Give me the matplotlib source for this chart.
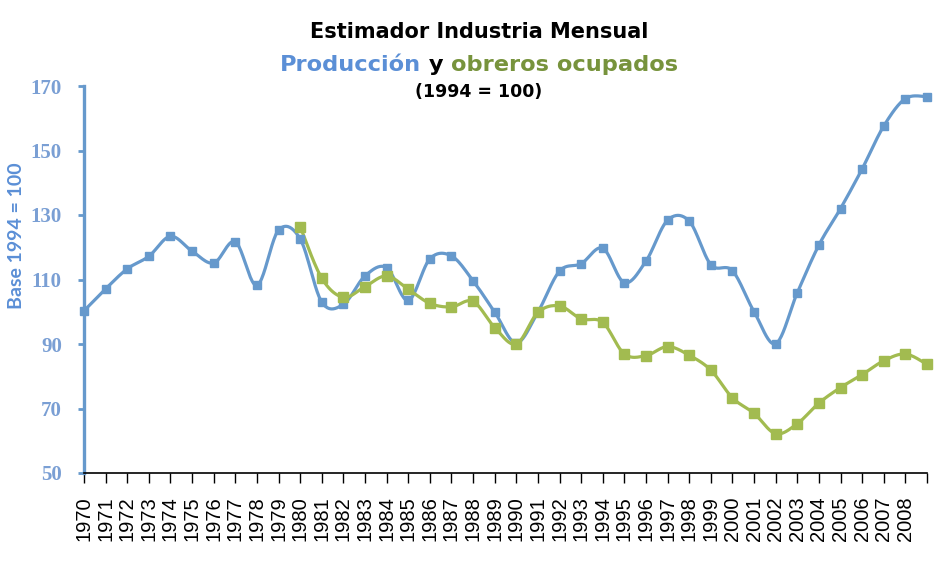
import numpy as np
import matplotlib
matplotlib.use("Agg")
import matplotlib.pyplot as plt

# Estimador Industria Mensual: produccion y obreros ocupados (1994 = 100)

years = [str(y) for y in range(1970, 2009)] + [""]

produccion = [100.3, 107.1, 113.3, 117.2, 123.4, 118.8, 115.1, 121.7, 108.2, 125.3,
              122.6, 103.0, 102.3, 111.1, 113.7, 103.5, 116.4, 117.3, 109.6, 99.9,
              90.3, 99.9, 112.6, 114.9, 119.7, 109.0, 115.7, 128.4, 128.1, 114.6,
              112.7, 100.0, 90.1, 105.9, 120.7, 132.0, 144.3, 157.6, 166.1, 166.7]

obreros = [np.nan] * 10 + [
    126.4, 110.4, 104.5, 107.8, 111.1, 107.0, 102.6, 101.5, 103.2, 95.1,
    90.0, 99.8, 101.8, 97.8, 96.7, 86.9, 86.4, 89.2, 86.5, 81.9,
    73.3, 68.5, 62.2, 65.3, 71.7, 76.5, 80.5, 84.8, 86.9, 83.7]

BLUE = "#6699cc"
GREEN = "#a2bb50"
TITLE_BLUE = "#5b8fd6"
TITLE_GREEN = "#77933c"
TITLE_FONT = "DejaVu Sans"


def smooth(x, y, n=24):
    """Excel-like smoothed line (cubic bezier, catmull-rom control points)."""
    x = np.asarray(x, float)
    y = np.asarray(y, float)
    xs, ys = [], []
    for i in range(len(x) - 1):
        i0 = max(i - 1, 0)
        i3 = min(i + 2, len(x) - 1)
        p0 = np.array([x[i0], y[i0]])
        p1 = np.array([x[i], y[i]])
        p2 = np.array([x[i + 1], y[i + 1]])
        p3 = np.array([x[i3], y[i3]])
        c1 = p1 + (p2 - p0) / 6
        c2 = p2 - (p3 - p1) / 6
        t = np.linspace(0, 1, n)[:, None]
        pts = ((1 - t) ** 3) * p1 + 3 * ((1 - t) ** 2) * t * c1 + 3 * (1 - t) * t ** 2 * c2 + t ** 3 * p2
        xs.extend(pts[:, 0])
        ys.extend(pts[:, 1])
    return np.array(xs), np.array(ys)


fig = plt.figure(figsize=(9.48, 5.68), dpi=100)
ax = fig.add_axes([84 / 948, 1 - 473 / 568, (927 - 84) / 948, (473 - 86) / 568])

x = np.arange(len(produccion))
sx, sy = smooth(x, produccion)
ax.plot(sx, sy, color=BLUE, lw=2.3, clip_on=False, zorder=3)
ax.plot(x, produccion, ls="none", marker="s", ms=6.3, color=BLUE, clip_on=False, zorder=4)

ob = np.array(obreros)
mask = ~np.isnan(ob)
gx, gy = smooth(x[mask], ob[mask])
ax.plot(gx, gy, color=GREEN, lw=2.3, clip_on=False, zorder=3)
ax.plot(x[mask], ob[mask], ls="none", marker="s", ms=7.3, color=GREEN, clip_on=False, zorder=4)

ax.set_xlim(0, len(produccion) - 1)
ax.set_ylim(50, 170)
ax.set_yticks(range(50, 171, 20))
ax.set_xticks(x)
ax.set_xticklabels(years, rotation=90, fontsize=14.5, family="Liberation Sans")

for lbl in ax.get_yticklabels():
    lbl.set_family("Liberation Serif")
    lbl.set_fontweight("bold")
    lbl.set_fontsize(15)
    lbl.set_color("#7a9fd4")

ax.spines["top"].set_visible(False)
ax.spines["right"].set_visible(False)
ax.spines["left"].set_color(BLUE)
ax.spines["left"].set_linewidth(2.4)
ax.spines["bottom"].set_color("black")
ax.spines["bottom"].set_linewidth(1.2)
ax.tick_params(axis="y", colors=BLUE, width=2, length=4, pad=12, labelcolor="#7a9fd4")
ax.tick_params(axis="x", colors="black", width=1, length=7, pad=10)

fig.text(17 / 948, 1 - 236 / 568, "Base 1994 = 100", rotation=90, ha="center", va="center",
         fontsize=14, fontweight="bold", color=TITLE_BLUE, family="Lato")

cx = 479 / 948
fig.text(cx, 1 - 38 / 568, "Estimador Industria Mensual", ha="center", va="baseline",
         fontsize=15, fontweight="bold", color="black", family=TITLE_FONT)
fig.text(cx, 1 - 97 / 568, "(1994 = 100)", ha="center", va="baseline",
         fontsize=12.5, fontweight="bold", color="black", family=TITLE_FONT)

pieces = [("Producción", TITLE_BLUE), (" y ", "black"), ("obreros ocupados", TITLE_GREEN)]
texts = [fig.text(0, 1 - 71 / 568, s, ha="left", va="baseline", fontsize=16.2,
                  fontweight="bold", color=c, family=TITLE_FONT) for s, c in pieces]
renderer = fig.canvas.get_renderer()
widths = [t.get_window_extent(renderer).width / fig.bbox.width for t in texts]
pos = cx - sum(widths) / 2
for t, w in zip(texts, widths):
    t.set_x(pos)
    pos += w

fig.savefig("out.png", dpi=100)
